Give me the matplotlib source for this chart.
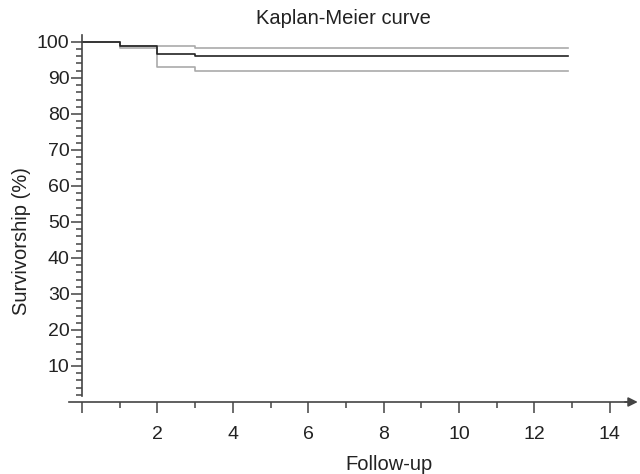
import numpy as np
import matplotlib
matplotlib.use("Agg")
import matplotlib.pyplot as plt

plt.rcParams['font.family'] = ['Liberation Sans', 'DejaVu Sans']

# Kaplan-Meier estimate and confidence band (step points)
times = [0, 1, 2, 3, 12.9]
survival = [100, 98.9, 96.5, 96.0, 96.0]
upper_ci = [100, 98.9, 98.9, 98.3, 98.3]
lower_ci = [100, 98.4, 93.1, 91.9, 91.9]

x_major = [0, 2, 4, 6, 8, 10, 12, 14]
x_labels = ['', '2', '4', '6', '8', '10', '12', '14']
y_major = [10, 20, 30, 40, 50, 60, 70, 80, 90, 100]

W, H = 640, 474
fig = plt.figure(figsize=(W / 100, H / 100), dpi=100)
# axes placed in pixel terms: x 60..640, y 30..420 from top
ax = fig.add_axes([60 / W, (H - 420) / H, 580 / W, 390 / H])
ax.set_xlim(-0.584, 14.80)
ax.set_ylim(-5, 103.3)

axis_col = '#444444'
ax.step(times, upper_ci, where='post', color='#aaaaaa', lw=1.2)
ax.step(times, lower_ci, where='post', color='#aaaaaa', lw=1.2)
ax.step(times, survival, where='post', color='#222222', lw=1.2)

for s in ['top', 'right']:
    ax.spines[s].set_visible(False)
ax.spines['left'].set_position(('data', 0))
ax.spines['bottom'].set_position(('data', 0))
ax.spines['left'].set_bounds(1.7, 101.9)
ax.spines['bottom'].set_bounds(-0.35, 14.6)
for s in ['left', 'bottom']:
    ax.spines[s].set_color(axis_col)
    ax.spines[s].set_linewidth(1.2)

ax.annotate('', xy=(14.74, 0), xytext=(14.4, 0),
            arrowprops=dict(arrowstyle='-|>', color=axis_col, lw=1.2,
                            mutation_scale=14, shrinkA=0, shrinkB=0))

ax.set_xticks(x_major)
ax.set_xticklabels(x_labels)
ax.set_xticks(np.arange(1, 15, 2), minor=True)
ax.set_yticks(y_major)
ax.set_yticks(np.arange(2, 101, 2), minor=True)

ax.tick_params(axis='both', which='major', direction='out', length=8,
               width=1.1, color=axis_col, labelsize=14, labelcolor='#222222')
ax.tick_params(axis='both', which='minor', direction='out', length=4.2,
               width=1.1, color=axis_col)
ax.tick_params(axis='x', which='major', pad=9)
ax.tick_params(axis='y', which='major', pad=1)

fig.text(343 / W, 1 - 19 / H, 'Kaplan-Meier curve', ha='center', va='center',
         fontsize=14.5, color='#222222')
fig.text(389 / W, 1 - 464 / H, 'Follow-up', ha='center', va='center',
         fontsize=14.5, color='#222222')
fig.text(22 / W, 1 - 241 / H, 'Survivorship (%)', ha='center', va='center',
         rotation=90, fontsize=14.5, color='#222222')

fig.savefig('out.png', dpi=100)
